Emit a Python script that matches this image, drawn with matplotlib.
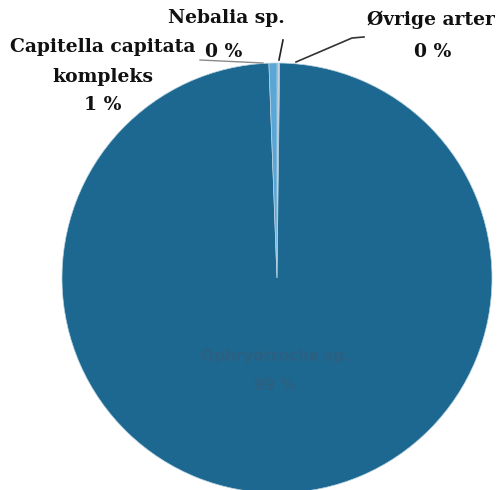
import matplotlib.pyplot as plt

# species shares (percent)
species = ['Nebalia sp.', 'Øvrige arter', 'Ophryotrocha sp.', 'Capitella capitata\nkompleks']
shares = [0.1, 0.1, 99.2, 0.6]
pct_labels = ['0 %', '0 %', '99 %', '1 %']
colors = ['#9a9a9a', '#c9c9c9', '#1d6890', '#5aa6d6']

H = 490
fig = plt.figure(figsize=(5.01, 4.90), dpi=100)
ax = fig.add_axes([0, 0, 1, 1])

cx, cy, r = 277, H - 278, 215
ax.pie(shares, colors=colors, startangle=90, counterclock=False,
       center=(cx, cy), radius=r, frame=True,
       wedgeprops=dict(edgecolor='#b9d3e2', linewidth=0.5))
ax.set_xlim(0, 501)
ax.set_ylim(0, H)
ax.set_aspect('equal')
ax.axis('off')

font = dict(family='DejaVu Serif', weight='bold', fontsize=13.5, color='#111111',
            ha='center', va='center')

# outside labels
ax.text(103, H - 47, 'Capitella capitata', **font)
ax.text(103, H - 77, 'kompleks', **font)
ax.text(103, H - 105, pct_labels[3], **font)
ax.text(226, H - 18, species[0], **font)
ax.text(224, H - 52, pct_labels[0], **font)
ax.text(431, H - 20, species[1], **font)
ax.text(433, H - 52, pct_labels[1], **font)

# leader lines
ax.plot([200, 263], [H - 60, H - 63], color='#8a8a8a', lw=1)
ax.plot([283, 279], [H - 40, H - 60], color='#222222', lw=1.2)
ax.plot([296, 352, 364], [H - 62, H - 38, H - 37], color='#333333', lw=1.2)

# inside label of the dominant species
ax.text(cx - 2, H - 357, species[2], family='DejaVu Sans', weight='bold',
        fontsize=11, color='#2f5f7f', ha='center', va='center', alpha=0.8)
ax.text(cx - 2, H - 385, pct_labels[2], family='DejaVu Sans', weight='bold',
        fontsize=11, color='#2f5f7f', ha='center', va='center', alpha=0.8)

fig.savefig('out.png', dpi=100, facecolor='white')
